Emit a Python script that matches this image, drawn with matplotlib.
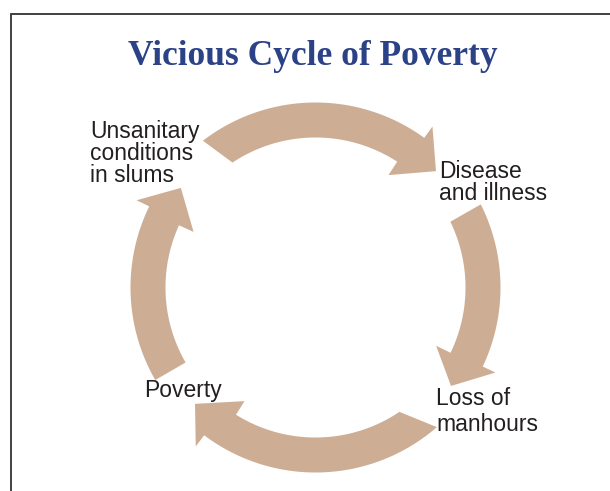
import numpy as np
import matplotlib
matplotlib.use("Agg")
import matplotlib.pyplot as plt
from matplotlib.patches import Polygon
from matplotlib.lines import Line2D

# ---- data ----
title = "Vicious Cycle of Poverty"
labels = [["Unsanitary", "conditions", "in slums"],
          ["Disease", "and illness"],
          ["Loss of", "manhours"],
          ["Poverty"]]
label_x = [90, 439, 436, 144]
label_baseline = [138, 178, 405, 397]
label_spacing = [22, 22, 26, 22]

# arrow angles (degrees, counter-clockwise from +x, flow is clockwise)
tail_out = [127.5, 26.7, -49.0, 210.0]
tail_in = [123.6, 26.0, -56.0, 210.0]
base_out = [54.0, -25.3, -127.0, 154.0]
base_in = [57.0, -25.8, -122.0, 155.5]
tip_ang = [44.0, -36.0, -136.0, 143.5]

cx, cy = 315.5, 287.5
r_in, r_out = 150.0, 185.0
barb_in, barb_out = 134.0, 199.0
r_mid = 167.5

arrow_color = "#cdae95"
text_color = "#231f20"
title_color = "#2c4287"

W, H = 610, 491
fig = plt.figure(figsize=(W / 100, H / 100), dpi=100)
ax = fig.add_axes([0, 0, 1, 1])
ax.set_xlim(0, W)
ax.set_ylim(H, 0)
ax.axis("off")


def pt(a, r):
    t = np.radians(a)
    return (cx + r * np.cos(t), cy - r * np.sin(t))


for i in range(4):
    outer = [pt(a, r_out) for a in np.linspace(tail_out[i], base_out[i], 80)]
    head = [pt(base_out[i], barb_out), pt(tip_ang[i], r_mid), pt(base_in[i], barb_in)]
    inner = [pt(a, r_in) for a in np.linspace(base_in[i], tail_in[i], 80)]
    ax.add_patch(Polygon(outer + head + inner, closed=True, facecolor=arrow_color,
                         edgecolor="none", zorder=2))

for lines, x, y0, sp in zip(labels, label_x, label_baseline, label_spacing):
    for j, line in enumerate(lines):
        ax.text(x, y0 + j * sp, line, ha="left", va="baseline",
                fontsize=16.5, family="Liberation Sans", color=text_color, zorder=3)

ax.text(313, 65, title, ha="center", va="baseline", fontsize=25.5,
        family="Liberation Serif", fontweight="bold", color=title_color, zorder=3)

# frame
ax.add_line(Line2D([10.5, 10.5, W + 5], [H + 5, 13.5, 13.5], color="#333333",
                   lw=1.3, solid_joinstyle="miter", zorder=4))

fig.savefig("out.png", dpi=100)
